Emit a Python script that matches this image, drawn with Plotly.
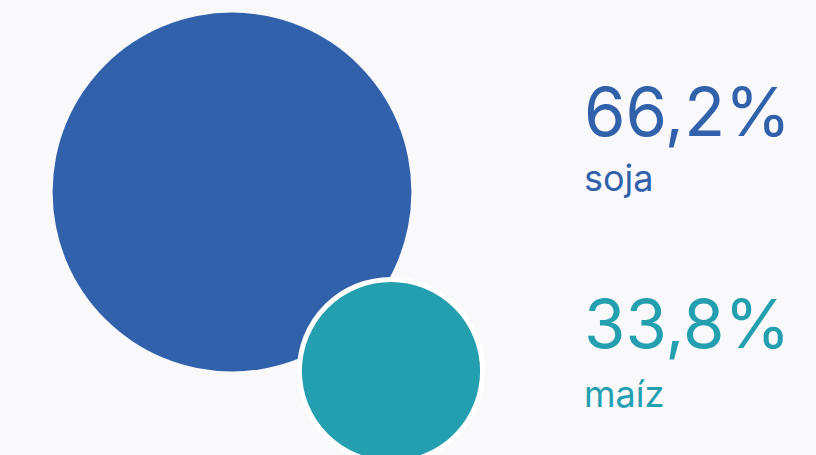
import plotly.graph_objects as go

categories = ["soja", "maíz"]
shares = [66.2, 33.8]
colors = ["#3161AB", "#239FB0"]

W, H = 816, 455
BG = "#F9F9FB"
# layout positions (pixel space)
cx = [232, 391]
cy = [192, 371]
outline = [0, 5]
text_x = 582
value_y = [154, 366]
label_y = [202, 418]

fig = go.Figure()
for i, (cat, v, c) in enumerate(zip(categories, shares, colors)):
    fig.add_trace(go.Scatter(
        x=[cx[i]], y=[cy[i]], mode="markers",
        marker=dict(size=[v], sizemode="diameter", sizeref=1/5.42,
                    color=c, line=dict(color="white", width=outline[i]), opacity=1),
        hoverinfo="skip", showlegend=False, cliponaxis=False,
    ))

for i, (cat, v, c) in enumerate(zip(categories, shares, colors)):
    fig.add_annotation(x=text_x, y=value_y[i], xref="x", yref="y",
                       text=f"{v:.1f}%".replace(".", ","), showarrow=False,
                       xanchor="left", yanchor="bottom",
                       font=dict(family="Inter", size=67, color=c))
    fig.add_annotation(x=text_x, y=label_y[i], xref="x", yref="y",
                       text=cat, showarrow=False,
                       xanchor="left", yanchor="bottom",
                       font=dict(family="Inter", size=36, color=c))

fig.update_layout(
    width=W, height=H, margin=dict(l=0, r=0, t=0, b=0),
    paper_bgcolor=BG, plot_bgcolor=BG,
    xaxis=dict(range=[0, W], visible=False, fixedrange=True),
    yaxis=dict(range=[H, 0], visible=False, fixedrange=True),
)
fig.write_html("out.html", config={"displayModeBar": False},
               post_script="document.body.style.margin='0';document.body.style.background='%s';" % BG)
